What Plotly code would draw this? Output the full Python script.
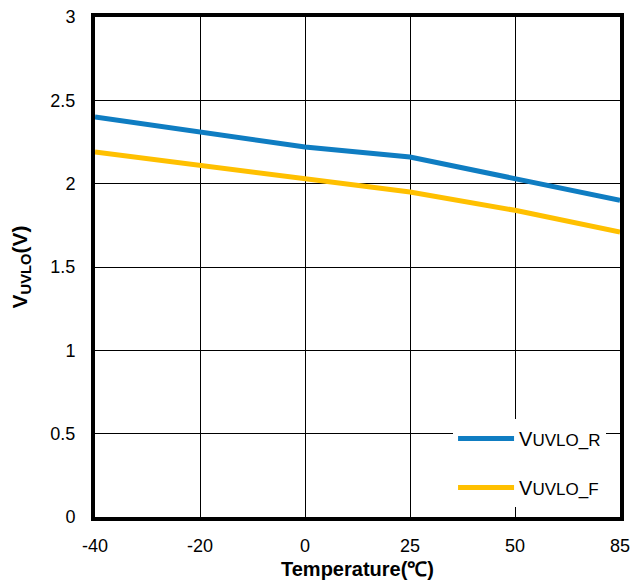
import plotly.graph_objects as go

temps = ["-40", "-20", "0", "25", "50", "85"]
v_uvlo_r = [2.40, 2.31, 2.22, 2.16, 2.03, 1.90]
v_uvlo_f = [2.19, 2.11, 2.035, 1.95, 1.84, 1.71]
y_ticks = [0, 0.5, 1, 1.5, 2, 2.5, 3]
y_tick_text = ["0", "0.5", "1", "1.5", "2", "2.5", "3"]

font_family = "Liberation Sans, Arial, sans-serif"

fig = go.Figure()
fig.add_trace(go.Scatter(
    x=temps, y=v_uvlo_r, mode="lines",
    line=dict(color="#0F7DC2", width=5),
    name="V<span style='font-size:17px'>UVLO_R</span>",
    legendgroup="r",
))
fig.add_trace(go.Scatter(
    x=temps, y=v_uvlo_f, mode="lines",
    line=dict(color="#FFC000", width=5),
    name="V<span style='font-size:17px'>UVLO_F</span>",
    legendgroup="f",
))

fig.update_layout(
    width=632, height=588,
    margin=dict(l=95, r=12, t=17, b=71),
    paper_bgcolor="white", plot_bgcolor="white",
    font=dict(family=font_family, size=18, color="black"),
    showlegend=True,
    legend=dict(
        x=0.682, y=0.196, xanchor="left", yanchor="top",
        bgcolor="white", borderwidth=0,
        font=dict(size=20, color="black"),
        traceorder="grouped", tracegroupgap=20,
        itemwidth=56,
    ),
    xaxis=dict(
        type="category",
        range=[0, 5],
        automargin=False,
        showgrid=True, gridcolor="black", gridwidth=1,
        showline=True, linecolor="black", linewidth=4, mirror=True,
        ticks="", tickfont=dict(size=18), ticklabelstandoff=9,
        title=dict(text="<b>Temperature(℃)</b>", font=dict(size=20), standoff=8),
        zeroline=False,
    ),
    yaxis=dict(
        range=[0, 3],
        automargin=False,
        tickvals=y_ticks, ticktext=y_tick_text,
        showgrid=True, gridcolor="black", gridwidth=1,
        showline=True, linecolor="black", linewidth=4, mirror=True,
        ticks="", tickfont=dict(size=18), ticklabelstandoff=12,
        title=dict(text="<b>V<sub>UVLO</sub>(V)</b>", font=dict(size=21), standoff=18),
        zeroline=False,
    ),
)

fig.write_html("out.html")
